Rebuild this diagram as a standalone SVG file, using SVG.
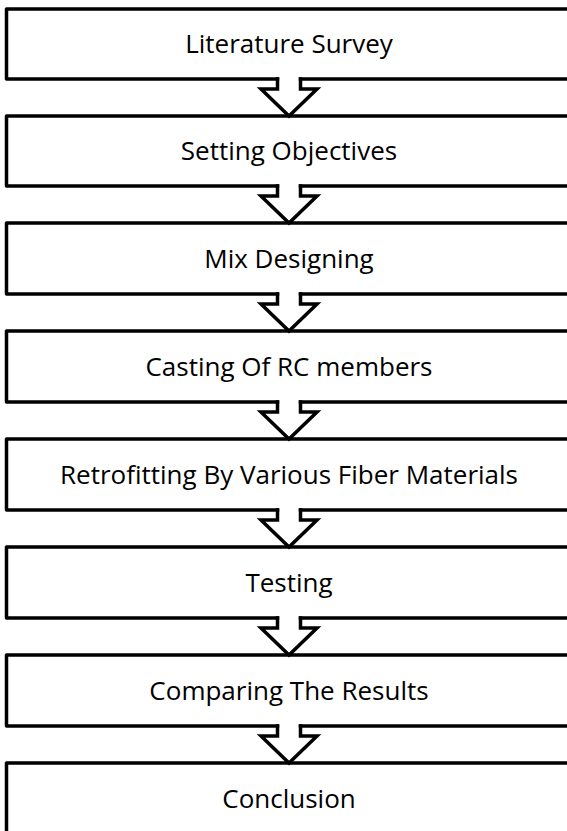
<svg xmlns="http://www.w3.org/2000/svg" width="567" height="831" viewBox="0 0 567 831">
  <style>
    .box { fill: none; stroke: #000; stroke-width: 3.5; stroke-linejoin: round; stroke-linecap: square; }
    .arrow { fill: none; stroke: #000; stroke-width: 3.5; stroke-linejoin: miter; stroke-linecap: square; }
    .label { font-family: "Open Sans", "Noto Sans", sans-serif; font-size: 26px; fill: #000; text-anchor: middle; }
  </style>
  <rect width="567" height="831" fill="#fff"/>

  <!-- process steps: each box runs off the right edge and breaks at the bottom for the arrow -->
  <g id="step-literature-survey">
    <path class="box" d="M575 9 H6.5 V79 H277.5 M300.5 79 H575"/>
    <text class="label" x="289" y="53">Literature Survey</text>
  </g>
  <g id="step-setting-objectives">
    <path class="box" d="M575 116 H6.5 V186 H277.5 M300.5 186 H575"/>
    <text class="label" x="289" y="160">Setting Objectives</text>
  </g>
  <g id="step-mix-designing">
    <path class="box" d="M575 223 H6.5 V294 H277.5 M300.5 294 H575"/>
    <text class="label" x="289" y="267.5">Mix Designing</text>
  </g>
  <g id="step-casting">
    <path class="box" d="M575 331 H6.5 V402 H277.5 M300.5 402 H575"/>
    <text class="label" x="289" y="375.5">Casting Of RC members</text>
  </g>
  <g id="step-retrofitting">
    <path class="box" d="M575 439 H6.5 V510 H277.5 M300.5 510 H575"/>
    <text class="label" x="289" y="483.5">Retrofitting By Various Fiber Materials</text>
  </g>
  <g id="step-testing">
    <path class="box" d="M575 547 H6.5 V618 H277.5 M300.5 618 H575"/>
    <text class="label" x="289" y="591.5">Testing</text>
  </g>
  <g id="step-comparing">
    <path class="box" d="M575 655 H6.5 V726 H277.5 M300.5 726 H575"/>
    <text class="label" x="289" y="699.5">Comparing The Results</text>
  </g>
  <g id="step-conclusion">
    <path class="box" d="M575 763 H6.5 V840"/>
    <text class="label" x="289" y="808">Conclusion</text>
  </g>

  <!-- block arrows between consecutive steps -->
  <g id="connectors">
    <path class="arrow" d="M277.5 79 V89 H261 L289 116 L317 89 H300.5 V79"/>
    <path class="arrow" d="M277.5 186 V196 H261 L289 223 L317 196 H300.5 V186"/>
    <path class="arrow" d="M277.5 294 V304 H261 L289 331 L317 304 H300.5 V294"/>
    <path class="arrow" d="M277.5 402 V412 H261 L289 439 L317 412 H300.5 V402"/>
    <path class="arrow" d="M277.5 510 V520 H261 L289 547 L317 520 H300.5 V510"/>
    <path class="arrow" d="M277.5 618 V628 H261 L289 655 L317 628 H300.5 V618"/>
    <path class="arrow" d="M277.5 726 V736 H261 L289 763 L317 736 H300.5 V726"/>
  </g>
</svg>
